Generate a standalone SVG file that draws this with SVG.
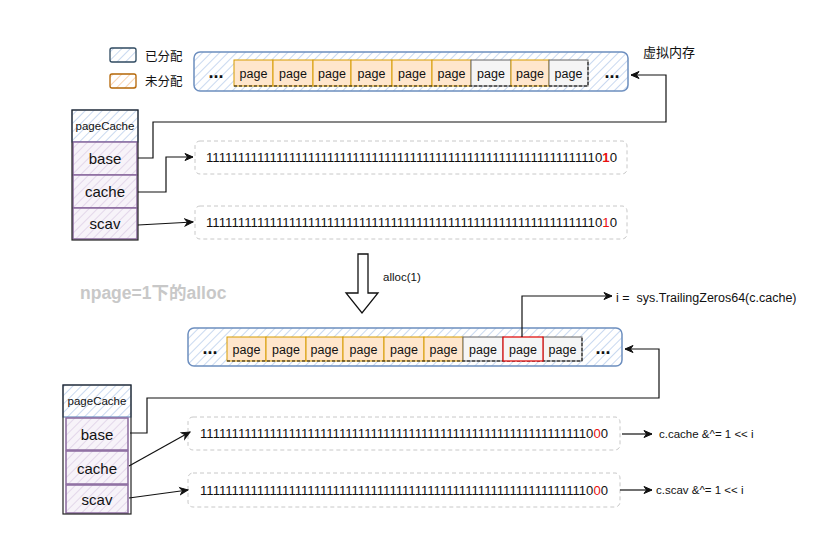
<svg xmlns="http://www.w3.org/2000/svg" width="823" height="544" viewBox="0 0 823 544">
<defs>
<pattern id="hb" patternUnits="userSpaceOnUse" width="6" height="6" patternTransform="rotate(45)"><rect width="6" height="6" fill="#ffffff"/><line x1="0" y1="0" x2="0" y2="6" stroke="#c9d9f0" stroke-width="2"/></pattern>
<pattern id="hp" patternUnits="userSpaceOnUse" width="6" height="6" patternTransform="rotate(45)"><rect width="6" height="6" fill="#f7f3f9"/><line x1="0" y1="0" x2="0" y2="6" stroke="#e3d7ea" stroke-width="2"/></pattern>
<pattern id="ho" patternUnits="userSpaceOnUse" width="6" height="6" patternTransform="rotate(45)"><rect width="6" height="6" fill="#ffffff"/><line x1="0" y1="0" x2="0" y2="6" stroke="#f7d3b0" stroke-width="2"/></pattern>
<marker id="ar" markerWidth="10" markerHeight="10" refX="9" refY="5" orient="auto" markerUnits="userSpaceOnUse"><path d="M1,1.5 L9,5 L1,8.5 L3.5,5 Z" fill="#111" stroke="#111" stroke-width="1"/></marker>
</defs>
<style>
text{font-family:"Liberation Sans","Noto Sans CJK SC",sans-serif;fill:#111}
.strip{fill:url(#hb);stroke:#6c8ebf;stroke-width:1.5}
.po{fill:#ffe6cc;stroke:#d79b00;stroke-width:1}
.pg{fill:#f5f5f5;stroke:#666;stroke-width:1}
.pr{fill:#f5f5f5;stroke:#e00000;stroke-width:1.2}
.pt{font-size:12.5px;text-anchor:middle}
.dots{font-size:18px;font-weight:bold;text-anchor:middle}
.grp{fill:none;stroke:#111;stroke-width:1;stroke-dasharray:3 2}
.hdr{fill:url(#hb);stroke:#6c8ebf;stroke-width:1.2}
.cell{fill:url(#hp);stroke:#8b6a9e;stroke-width:1.5}
.stack{fill:none;stroke:#222;stroke-width:1.2}
.ct{font-size:15px;text-anchor:middle}
.ht{font-size:11.5px;text-anchor:middle}
.bits{fill:#fff;stroke:#c8c8c8;stroke-width:1;stroke-dasharray:4 3}
.bt{font-size:13px}
.red{fill:#e81010}
.lbl{font-size:11.5px}
.con{fill:none;stroke:#111;stroke-width:1.2;marker-end:url(#ar)}
</style>

<g id="legend">
<rect x="110" y="48" width="26" height="14" rx="2" fill="url(#hb)" stroke="#2f4a60" stroke-width="1.3"/>
<text x="145" y="61" font-size="12.5">已分配</text>
<rect x="110" y="74" width="26" height="14" rx="2" fill="url(#ho)" stroke="#b46504" stroke-width="1.3"/>
<text x="145" y="86" font-size="12.5">未分配</text>
</g>

<g id="vmem-top">
<rect class="strip" x="194" y="52" width="434" height="39" rx="6"/>
<text class="dots" x="216" y="78">...</text>
<rect class="po" x="234" y="60" width="39" height="26"/><text class="pt" x="253.5" y="77.5">page</text>
<rect class="po" x="273" y="60" width="40" height="26"/><text class="pt" x="293" y="77.5">page</text>
<rect class="po" x="313" y="60" width="38" height="26"/><text class="pt" x="332" y="77.5">page</text>
<rect class="po" x="351" y="60" width="41" height="26"/><text class="pt" x="371.5" y="77.5">page</text>
<rect class="po" x="392" y="60" width="40" height="26"/><text class="pt" x="412" y="77.5">page</text>
<rect class="po" x="432" y="60" width="39" height="26"/><text class="pt" x="451.5" y="77.5">page</text>
<rect class="pg" x="471" y="60" width="40" height="26"/><text class="pt" x="491" y="77.5">page</text>
<rect class="po" x="511" y="60" width="38" height="26"/><text class="pt" x="530" y="77.5">page</text>
<rect class="pg" x="549" y="60" width="39" height="26"/><text class="pt" x="568.5" y="77.5">page</text>
<path class="grp" d="M234,86 L588,86 L588,60"/>
<text class="dots" x="612" y="78">...</text>
</g>
<text x="643" y="57" font-size="13">虚拟内存</text>

<g id="pagecache-top">
<rect class="hdr" x="72" y="110" width="66" height="32"/>
<text class="ht" x="105" y="130">pageCache</text>
<rect class="cell" x="73" y="142" width="64" height="33"/>
<text class="ct" x="105" y="164">base</text>
<rect class="cell" x="73" y="175" width="64" height="33"/>
<text class="ct" x="105" y="197">cache</text>
<rect class="cell" x="73" y="208" width="64" height="31"/>
<text class="ct" x="105" y="229">scav</text>
<rect class="stack" x="72" y="110" width="66" height="130"/>
</g>

<g id="bits-cache-top">
<rect class="bits" x="195" y="141" width="432" height="33" rx="5"/>
<text class="bt" x="206" y="162" textLength="411" lengthAdjust="spacingAndGlyphs">1111111111111111111111111111111111111111111111111111111111111<tspan>0</tspan><tspan class="red" font-weight="bold">1</tspan><tspan>0</tspan></text>
</g>
<g id="bits-scav-top">
<rect class="bits" x="195" y="206" width="432" height="33" rx="5"/>
<text class="bt" x="206" y="227" textLength="411" lengthAdjust="spacingAndGlyphs">1111111111111111111111111111111111111111111111111111111111111<tspan>0</tspan><tspan class="red">1</tspan><tspan>0</tspan></text>
</g>

<g id="alloc-arrow">
<path d="M358,254 L368,254 L368,293 L378,293 L362,313 L346,293 L358,293 Z" fill="#fff" stroke="#111" stroke-width="1.3"/>
<text x="383" y="281" font-size="11.5">alloc(1)</text>
</g>
<text x="80" y="299" font-size="17.5" font-weight="bold" style="fill:#c8c8c8">npage=1下的alloc</text>

<g id="vmem-bottom">
<rect class="strip" x="188" y="328" width="434" height="38" rx="6"/>
<text class="dots" x="210" y="354">...</text>
<rect class="po" x="227" y="337" width="39" height="24"/><text class="pt" x="246.5" y="353.5">page</text>
<rect class="po" x="266" y="337" width="40" height="24"/><text class="pt" x="286" y="353.5">page</text>
<rect class="po" x="306" y="337" width="37" height="24"/><text class="pt" x="324.5" y="353.5">page</text>
<rect class="po" x="343" y="337" width="41" height="24"/><text class="pt" x="363.5" y="353.5">page</text>
<rect class="po" x="384" y="337" width="40" height="24"/><text class="pt" x="404" y="353.5">page</text>
<rect class="po" x="424" y="337" width="39" height="24"/><text class="pt" x="443.5" y="353.5">page</text>
<rect class="pg" x="463" y="337" width="40" height="24"/><text class="pt" x="483" y="353.5">page</text>
<rect class="pg" x="543" y="337" width="39" height="24"/><text class="pt" x="562.5" y="353.5">page</text>
<path class="grp" d="M227,361 L582,361 L582,337"/>
<rect class="pr" x="503" y="337" width="40" height="24"/><text class="pt" x="523" y="353.5">page</text>
<text class="dots" x="603" y="354">...</text>
</g>
<text x="616" y="302" font-size="12.5">i =&#160; sys.TrailingZeros64(c.cache)</text>

<g id="pagecache-bottom">
<rect class="hdr" x="63" y="385" width="68" height="32"/>
<text class="ht" x="97" y="405">pageCache</text>
<rect class="cell" x="66" y="418" width="62" height="32"/>
<text class="ct" x="97" y="440">base</text>
<rect class="cell" x="66" y="451" width="62" height="33"/>
<text class="ct" x="97" y="474">cache</text>
<rect class="cell" x="66" y="485" width="62" height="28"/>
<text class="ct" x="97" y="505">scav</text>
<rect class="stack" x="63" y="385" width="68" height="129"/>
</g>

<g id="bits-cache-bottom">
<rect class="bits" x="188" y="417" width="432" height="33" rx="5"/>
<text class="bt" x="200" y="438" textLength="408" lengthAdjust="spacingAndGlyphs">1111111111111111111111111111111111111111111111111111111111111<tspan>0</tspan><tspan class="red">0</tspan><tspan>0</tspan></text>
</g>
<g id="bits-scav-bottom">
<rect class="bits" x="188" y="473" width="432" height="34" rx="5"/>
<text class="bt" x="200" y="495" textLength="408" lengthAdjust="spacingAndGlyphs">1111111111111111111111111111111111111111111111111111111111111<tspan>0</tspan><tspan class="red">0</tspan><tspan>0</tspan></text>
</g>
<text class="lbl" x="659" y="438">c.cache &amp;^= 1 &lt;&lt; i</text>
<text class="lbl" x="656" y="494">c.scav &amp;^= 1 &lt;&lt; i</text>

<g id="connectors">
<path class="con" d="M138,158 L153,158 L153,122 L666,122 L666,75 L631,75"/>
<path class="con" d="M138,192 L166,192 L166,157 L193,157"/>
<path class="con" d="M138,225 L193,222"/>
<path class="con" d="M130,433 L147,433 L147,398 L659,398 L659,349 L625,349"/>
<path class="con" d="M129,466 L190,432"/>
<path class="con" d="M129,498 L188,490"/>
<path class="con" d="M522,337 L522,296 L612,296"/>
<path class="con" d="M622,434 L652,434"/>
<path class="con" d="M620,490 L652,490"/>
</g>
</svg>
